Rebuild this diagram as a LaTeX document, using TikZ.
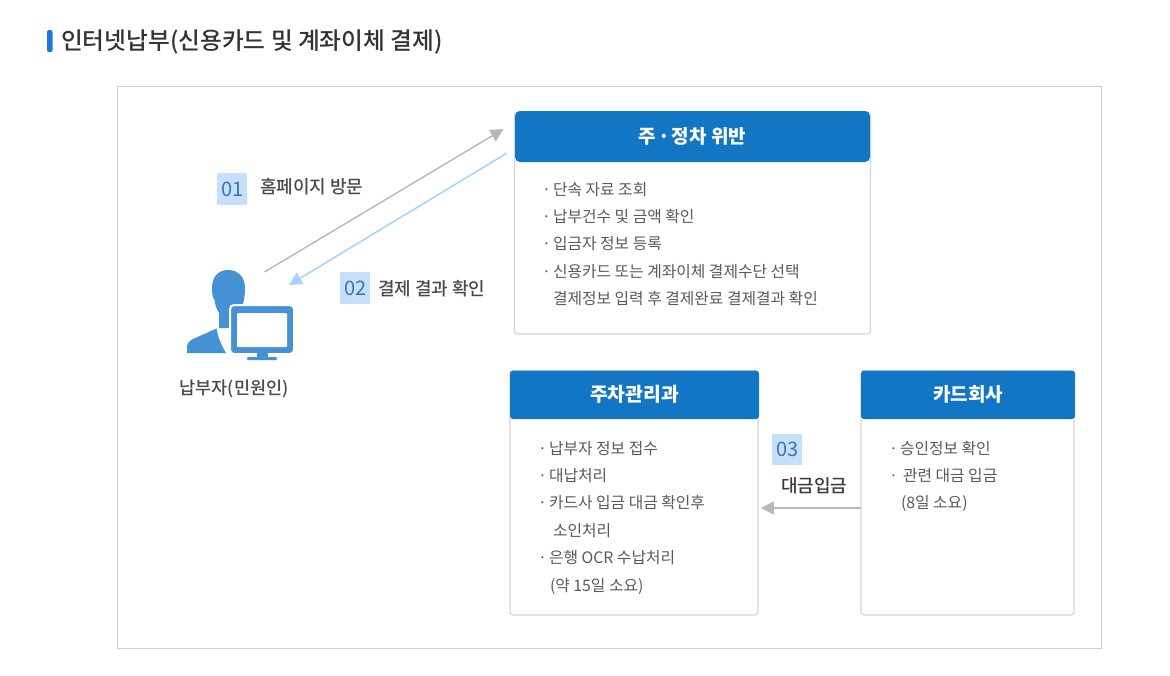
\documentclass[tikz,border=0pt]{standalone}
\usepackage{fontspec}
\setmainfont{Noto Sans CJK KR}
\newfontfamily\medfont{Noto Sans CJK KR Medium}
\usetikzlibrary{arrows.meta}
\definecolor{headblue}{HTML}{1276C5}
\definecolor{boxline}{HTML}{D6D6D6}
\definecolor{frameline}{HTML}{CFCFCF}
\definecolor{bodytext}{HTML}{5A5A5A}
\definecolor{labeltext}{HTML}{4A4A4A}
\definecolor{badgefill}{HTML}{C6DFFA}
\definecolor{badgetext}{HTML}{3A76B0}
\definecolor{iconblue}{HTML}{4592D6}
\definecolor{arrowgray}{HTML}{B8B8B8}
\definecolor{arrowblue}{HTML}{A5D3FC}
\definecolor{marker}{HTML}{1E74E8}
\definecolor{titletext}{HTML}{333333}
\newcommand{\bul}[1]{\makebox[#1][l]{·}}
\tikzset{
  x=1pt,y=-1pt,
  every node/.style={inner sep=0pt,outer sep=0pt},
  cardbody/.style={draw=boxline,line width=1.2pt,fill=white,rounded corners=3pt,anchor=north west},
  cardhead/.style={fill=headblue,rounded corners=3pt,anchor=north west,text=white,font=\fontsize{19}{22}\selectfont\bfseries},
  bodylines/.style={anchor=north west,align=left,text=bodytext,font=\fontsize{15.8}{27.4}\selectfont},
  badge/.style={fill=badgefill,text=badgetext,anchor=north west,minimum width=29.5pt,minimum height=32pt,text height=14.5pt,text depth=0pt,font=\fontsize{20}{24}\selectfont},
  steplabel/.style={anchor=west,text=labeltext,font=\fontsize{18}{20}\medfont},
  flowgray/.style={draw=arrowgray,line width=1.4pt,-{Triangle[length=13pt,width=13pt,fill=arrowgray]}},
  flowblue/.style={draw=arrowblue,line width=1.5pt,-{Triangle[length=13pt,width=13pt,fill=arrowblue]}},
}
\begin{document}
\begin{tikzpicture}
\useasboundingbox (0,0) rectangle (1170,675);
\fill[white] (0,0) rectangle (1170,675);
% title
\fill[marker,rounded corners=2pt] (47,30) rectangle (52.5,52);
\node[anchor=west,text=titletext,font=\fontsize{23.7}{26}\medfont] (title) at (61,42) {인터넷납부(신용카드 및 계좌이체 결제)};
% frame
\draw[frameline,line width=1pt] (117.5,86.5) rectangle (1101.5,648.5);

% box 1
\node[cardbody,minimum width=356pt,minimum height=222pt] (policeBody) at (514.5,112) {};
\node[cardhead,minimum width=355pt,minimum height=51pt,rounded corners=5pt] (policeHead) at (515,111) {주\hspace{2pt}·\hspace{2pt}정차 위반};
\node[bodylines] (policeText) at (542,182) {\bul{11pt}단속 자료 조회\\\bul{11pt}납부건수 및 금액 확인\\\bul{11pt}입금자 정보 등록\\\bul{11pt}신용카드 또는 계좌이체 결제수단 선택\\\hspace*{11pt}결제정보 입력 후 결제완료 결제결과 확인};

% box 2
\node[cardbody,minimum width=248pt,minimum height=244pt] (parkBody) at (510,371) {};
\node[cardhead,minimum width=249pt,minimum height=48.5pt,font=\fontsize{19.3}{22}\selectfont\bfseries] (parkHead) at (510,370.5) {주차관리과};
\node[bodylines] (parkText) at (538,441) {\bul{11pt}납부자 정보 접수\\\bul{11pt}대납처리\\\bul{11pt}카드사 입금 대금 확인후\\\hspace*{15pt}소인처리\\\bul{11pt}은행 OCR 수납처리\\\hspace*{12pt}(약 15일 소요)};

% box 3
\node[cardbody,minimum width=213pt,minimum height=244pt] (cardBody) at (861,371) {};
\node[cardhead,minimum width=214pt,minimum height=48.5pt] (cardHead) at (861,370.5) {카드회사};
\node[bodylines] (cardText) at (889,441) {\bul{11pt}승인정보 확인\\\bul{14pt}관련 대금 입금\\\hspace*{12pt}(8일 소요)};

% user icon
\fill[iconblue] (212,288) .. controls (212,276) and (219,270) .. (228,270)
  .. controls (238,270) and (245,277) .. (245,288)
  .. controls (245,295) and (244,300) .. (243,304)
  -- (243,306) -- (232,310) -- (232,328) -- (219,328) -- (219,313)
  .. controls (216,308) and (215,304) .. (215,301)
  .. controls (212,297) and (212,292) .. (212,288) -- cycle;
\fill[iconblue] (216.5,328.5) -- (193,339) .. controls (189,341) and (187,344) .. (187,347)
  -- (187,353) -- (226,353) .. controls (221,345) and (218,337) .. (216.5,328.5) -- cycle;
\draw[white,line width=2pt,fill=iconblue,rounded corners=4pt] (230,305) rectangle (294,354);
\fill[white,rounded corners=1pt] (237,313) rectangle (287,347);
\fill[iconblue] (257,353) rectangle (268,358);
\fill[iconblue,rounded corners=1pt] (247,357) rectangle (277,360);
\node[anchor=center,text=labeltext,font=\fontsize{17.5}{20}\medfont] (userLabel) at (234,388.5) {납부자(민원인)};

% badges and labels
\node[badge] (badgeA) at (217,173) {\hspace{1.5pt}01};
\node[steplabel] (labelA) at (260,187) {홈페이지 방문};
\node[badge] (badgeB) at (340,272) {\hspace{1.5pt}02};
\node[steplabel] (labelB) at (378,289) {결제 결과 확인};
\node[badge,minimum height=31pt] (badgeC) at (772,434) {\hspace{1.5pt}03};
\node[steplabel,text={rgb,255:red,60;green,60;blue,60}] (labelC) at (781,485.5) {대금입금};

% connector ends
\coordinate (userOut) at (264.5,272);
\coordinate (siteIn) at (503.5,129);
\coordinate (siteOut) at (507,153);
\coordinate (userIn) at (289,285);
\coordinate (cardOut) at (cardBody.west |- 0,508);
\coordinate (parkIn) at (761,508);
\draw[flowgray] (userOut) -- (siteIn);
\draw[flowblue] (siteOut) -- (userIn);
\draw[flowgray,line width=1.8pt] (cardOut) -- (parkIn);
\end{tikzpicture}
\end{document}
